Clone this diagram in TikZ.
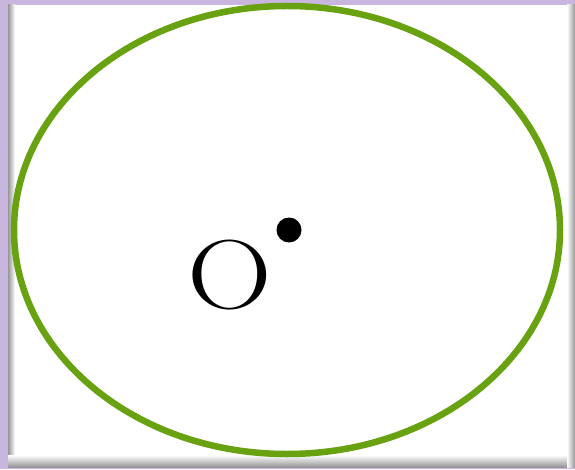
\documentclass[tikz,border=0pt]{standalone}
\usepackage{tikz}
\usetikzlibrary{positioning}
\definecolor{framelilac}{RGB}{200, 182, 222}
\definecolor{shadowgray}{RGB}{150, 150, 150}
\definecolor{ringgreen}{RGB}{104, 162, 16}
\tikzset{
  ring/.style={draw=ringgreen, line width=6.5pt},
  centrelabel/.style={font=\fontsize{98}{100}\selectfont, inner sep=0pt, xscale=1.2},
  centredot/.style={circle, fill=black, minimum size=25pt, inner sep=0pt}
}
\begin{document}
\begin{tikzpicture}[x=1pt, y=1pt]
    % Nền và khung
    \useasboundingbox (0,0) rectangle (575,469);
    \fill[framelilac] (0,0) rectangle (575,469);
    \fill[white] (8,2) rectangle (575,464);
    \shade[left color=shadowgray, right color=white] (8,2) rectangle (15,464);
    \shade[bottom color=shadowgray, top color=white] (8,2) rectangle (575,14);
    \shade[right color=shadowgray, left color=white] (567,2) rectangle (575,464);
    \fill[white] (15,14) rectangle (567,464);
    % Đường tròn
    \draw[ring] (287,239) ellipse [x radius=273, y radius=224];
    % Tâm O và điểm
    \node[centrelabel] (O) at (230,194) {O};
    \node[centredot] (dot) at (289,239) {};
\end{tikzpicture}
\end{document}
